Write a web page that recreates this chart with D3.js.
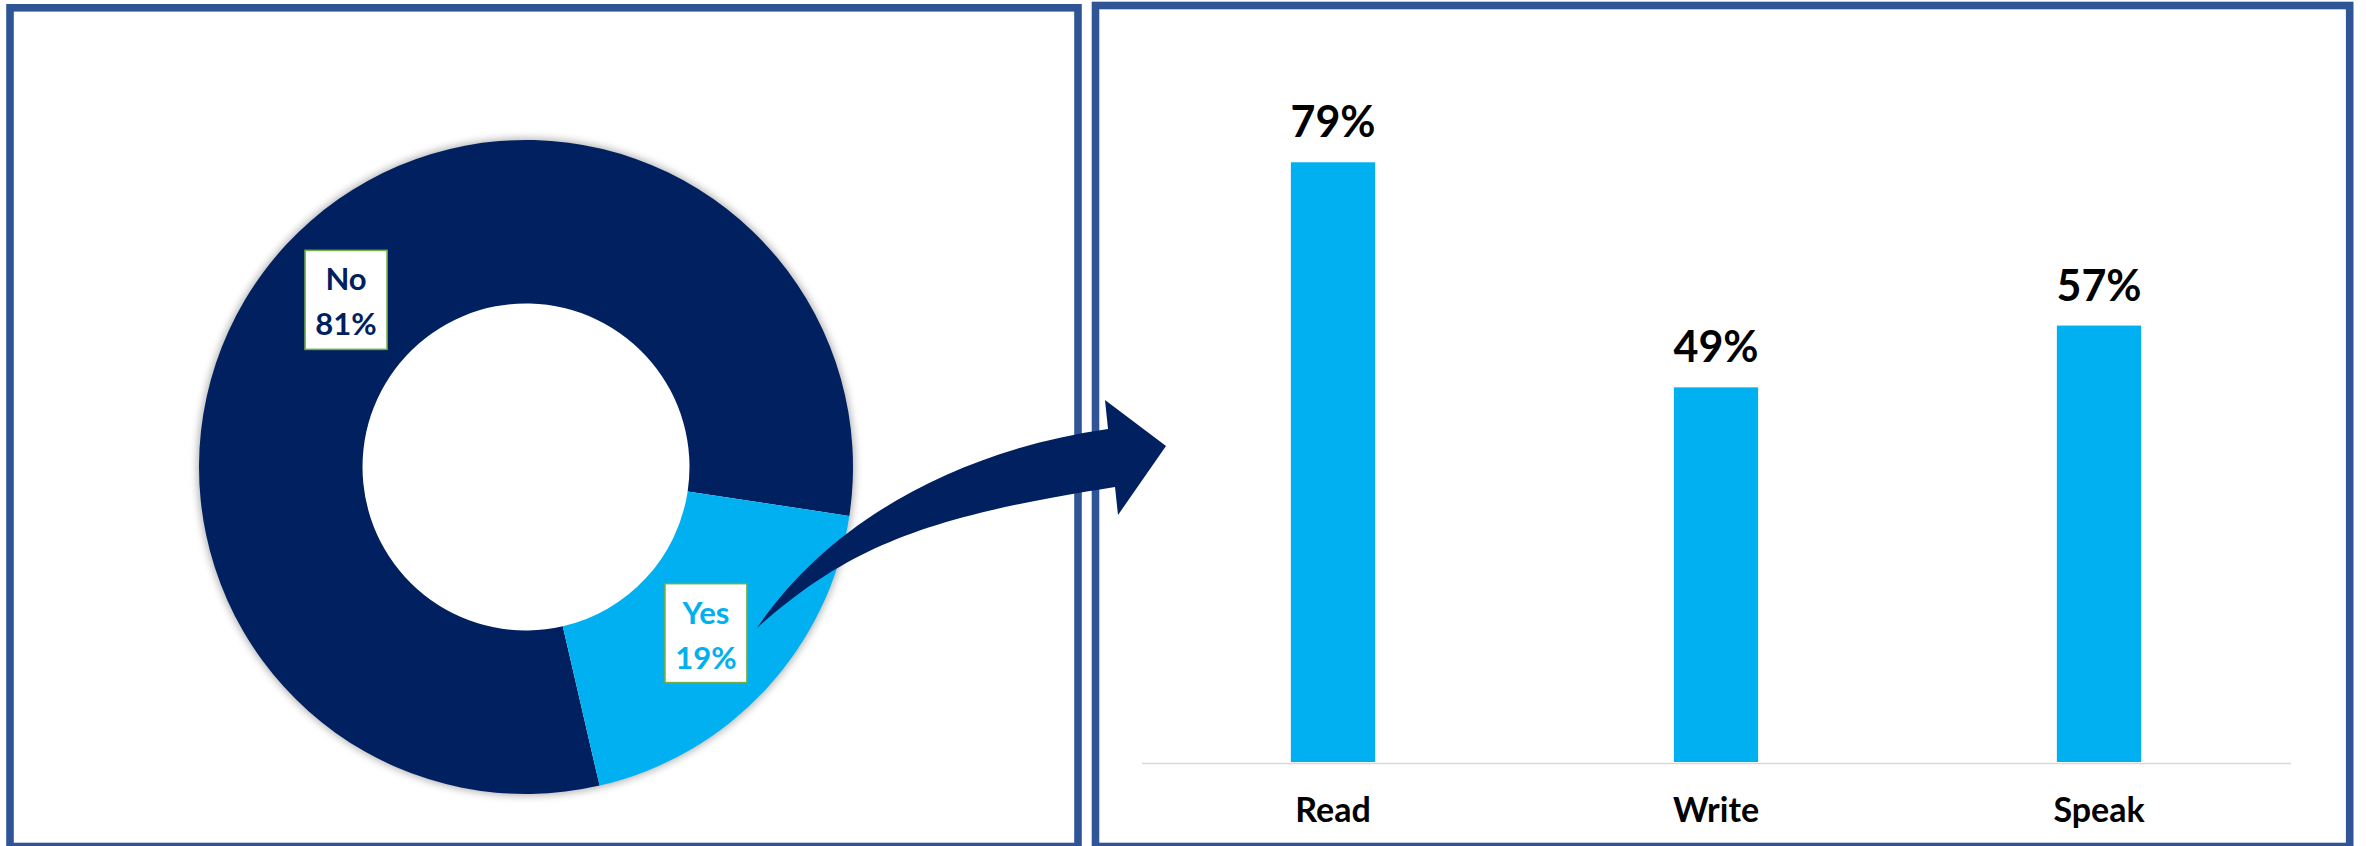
<!DOCTYPE html>
<html>
<head>
  <meta charset="UTF-8">
  <style>
    body {
      margin: 0;
      background-color: #ffffff;
    }
    svg {
      display: block;
    }
    text {
      font-family: Lato, "Open Sans", sans-serif;
      font-weight: bold;
    }
  </style>
</head>
<body>

<svg></svg>

<script src="https://d3js.org/d3.v7.min.js"></script>

<script>
// donut data
let pieLabels = ["No", "Yes"];
let pieValues = [81, 19];
let pieColors = ["#002060", "#00b0f0"];

// bar data (heights, labels as printed)
let categories = ["Read", "Write", "Speak"];
let barValues = [78.6, 49.1, 57.2];
let barLabels = ["79%", "49%", "57%"];

let width = 2366, height = 846;

let svg = d3.select("svg")
    .attr("width", width)
    .attr("height", height)
    .attr("viewBox", "0 0 " + width + " " + height);

let defs = svg.append("defs");
defs.append("filter")
    .attr("id", "soft")
    .attr("x", "-20%").attr("y", "-20%")
    .attr("width", "140%").attr("height", "140%")
  .append("feGaussianBlur")
    .attr("stdDeviation", 4);

// panel frames
let frameColor = "#2f5597";
svg.append("rect")
    .attr("x", 10).attr("y", 7.8)
    .attr("width", 1068).attr("height", 838.7)
    .attr("fill", "none")
    .attr("stroke", frameColor)
    .attr("stroke-width", 7.6);

svg.append("rect")
    .attr("x", 1095.5).attr("y", 5.5)
    .attr("width", 1254.2).attr("height", 841)
    .attr("fill", "none")
    .attr("stroke", frameColor)
    .attr("stroke-width", 7.6);

// ---- donut ----
let cx = 526, cy = 467, outerR = 327, innerR = 163.5;
let startA = 167 * Math.PI / 180;

let pie = d3.pie()
    .sort(null)
    .startAngle(startA)
    .endAngle(startA + 2 * Math.PI);

let arc = d3.arc().innerRadius(innerR).outerRadius(outerR);

let donut = svg.append("g")
    .attr("transform", "translate(" + cx + "," + cy + ")");

// soft shadow around the outer rim
donut.append("path")
    .attr("d", d3.arc().innerRadius(outerR - 8).outerRadius(outerR + 1)
      .startAngle(0).endAngle(2 * Math.PI)())
    .attr("fill", "#000")
    .attr("opacity", 0.35)
    .attr("filter", "url(#soft)");

let slices = pie(pieValues);

donut.selectAll("path.slice")
    .data(slices)
    .enter()
    .append("path")
    .attr("class", "slice")
    .attr("d", arc)
    .attr("fill", (d, i) => pieColors[i]);

let labelG = donut.selectAll("g.lbl")
    .data(slices)
    .enter()
    .append("g")
    .attr("class", "lbl")
    .attr("transform", d => {
      let c = arc.centroid(d);
      return "translate(" + c[0] + "," + c[1] + ")";
    });

labelG.append("rect")
    .attr("x", -41).attr("y", -50)
    .attr("width", 82).attr("height", 99)
    .attr("fill", "#ffffff")
    .attr("stroke", "#70ad47")
    .attr("stroke-width", 1.6);

labelG.append("text")
    .attr("text-anchor", "middle")
    .attr("y", -10)
    .attr("font-size", 31)
    .attr("fill", (d, i) => pieColors[i])
    .text((d, i) => pieLabels[i]);

labelG.append("text")
    .attr("text-anchor", "middle")
    .attr("y", 35)
    .attr("font-size", 31)
    .attr("fill", (d, i) => pieColors[i])
    .text((d, i) => Math.round(pieValues[i]) + "%");

// ---- bars ----
let x = d3.scaleBand()
    .domain(categories)
    .range([1141.5, 2290.5])
    .paddingInner(0.78)
    .paddingOuter(0.39);

let y = d3.scaleLinear()
    .domain([0, 100])
    .range([762, -1]);

svg.append("g")
    .selectAll("rect")
    .data(barValues)
    .enter()
    .append("rect")
    .attr("x", (d, i) => x(categories[i]))
    .attr("y", d => y(d))
    .attr("width", x.bandwidth())
    .attr("height", d => y(0) - y(d))
    .attr("fill", "#00b0f0");

let axis = svg.append("g")
    .attr("transform", "translate(0," + 763 + ")")
    .call(d3.axisBottom(x).tickSize(0).tickSizeOuter(0));

axis.select(".domain")
    .attr("stroke", "#d9d9d9")
    .attr("stroke-width", 1.6);

axis.selectAll("text")
    .attr("y", 58.7)
    .attr("dy", 0)
    .attr("font-size", 34)
    .attr("font-family", "Lato, 'Open Sans', sans-serif")
    .attr("font-weight", "bold")
    .attr("fill", "#000");

svg.append("g")
    .selectAll("text")
    .data(barValues)
    .enter()
    .append("text")
    .attr("text-anchor", "middle")
    .attr("x", (d, i) => x(categories[i]) + x.bandwidth() / 2)
    .attr("y", d => y(d) - 25)
    .attr("font-size", 43)
    .attr("fill", "#000")
    .text((d, i) => barLabels[i]);

// ---- curved arrow from the Yes slice to the bars ----
let arrow = d3.path();
arrow.moveTo(757, 628);
arrow.bezierCurveTo(830, 520, 960, 450, 1108, 429);
arrow.lineTo(1105, 400);
arrow.lineTo(1166, 446);
arrow.lineTo(1118, 515);
arrow.lineTo(1115, 487);
arrow.bezierCurveTo(930, 516, 850, 545, 757, 628);
arrow.closePath();

svg.append("path")
    .attr("d", arrow.toString())
    .attr("fill", "#002060");
</script>

</body>
</html>
